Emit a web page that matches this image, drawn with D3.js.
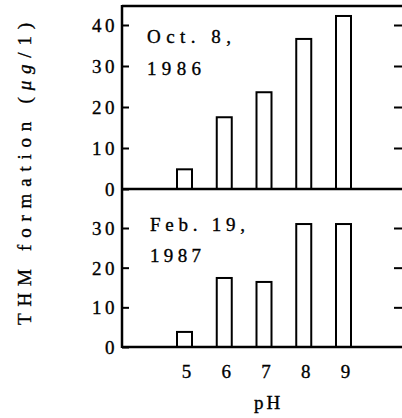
<!DOCTYPE html>
<html>
<head>
<meta charset="utf-8">
<script src="https://cdn.jsdelivr.net/npm/d3@7"></script>
<style>
  html, body { margin: 0; padding: 0; background: #fff; }
  svg { display: block; }
  svg text { font-family: "Liberation Serif", serif !important; fill: #000; stroke: #000; stroke-width: 0.35px; }
</style>
</head>
<body>
<svg id="chart" width="402" height="418"></svg>
<script>
// ---- data ----
const phValues = [5, 6, 7, 8, 9];
const oct1986 = [4.8, 17.5, 23.6, 36.6, 42.2];
const feb1987 = [3.8, 17.4, 16.4, 31.0, 31.0];
const topTicks = [0, 10, 20, 30, 40];
const bottomTicks = [0, 10, 20, 30];
const panelLabels = [["Oct. 8,", "1986"], ["Feb. 19,", "1987"]];
const yTitle = "THM formation (";
const xTitle = "pH";

// ---- layout ----
const FONT = "'Liberation Serif', serif";
const FS = 19;
const svg = d3.select("#chart");
const left = 122, right = 403, frameTop = 6;
const x = d3.scaleLinear().domain([5, 9]).range([184.5, 343.5]);
const yTop = d3.scaleLinear().domain([0, 40]).range([189, 25]);
const yBot = d3.scaleLinear().domain([0, 30]).range([347, 228]);
const barW = 15;

function drawPanel(y, values, ticks) {
  svg.append("g").selectAll("rect").data(values).join("rect")
    .attr("x", (d, i) => x(phValues[i]) - barW / 2)
    .attr("y", d => y(d))
    .attr("width", barW)
    .attr("height", d => y(0) - y(d))
    .attr("fill", "#fff").attr("stroke", "#000").attr("stroke-width", 2);
  const gl = svg.append("g").attr("transform", `translate(${left},0)`)
    .call(d3.axisLeft(y).tickValues(ticks).tickSize(-7).tickPadding(4).tickFormat(d3.format("d")));
  gl.attr("font-family", FONT).attr("font-size", FS);
  gl.select(".domain").remove();
  gl.selectAll(".tick line").attr("stroke", "#000").attr("stroke-width", 2);
  gl.selectAll(".tick text").attr("font-size", FS).attr("font-family", FONT)
    .attr("letter-spacing", 3.5).attr("dy", "0.34em");
  const gr = svg.append("g").attr("transform", `translate(${right},0)`)
    .call(d3.axisLeft(y).tickValues(ticks.filter(t => t > 0)).tickSize(9).tickFormat(""));
  gr.select(".domain").remove();
  gr.selectAll(".tick line").attr("stroke", "#000").attr("stroke-width", 2);
  svg.append("line").attr("x1", left).attr("x2", 402)
    .attr("y1", y(0)).attr("y2", y(0)).attr("stroke", "#000").attr("stroke-width", 2.5);
}

drawPanel(yTop, oct1986, topTicks);
drawPanel(yBot, feb1987, bottomTicks);

svg.append("line").attr("x1", left).attr("x2", 402).attr("y1", frameTop).attr("y2", frameTop)
  .attr("stroke", "#000").attr("stroke-width", 2.5);
svg.append("line").attr("x1", left).attr("x2", left).attr("y1", frameTop - 1).attr("y2", yBot(0) + 1)
  .attr("stroke", "#000").attr("stroke-width", 2.5);

const ann = [
  { lines: panelLabels[0], x: 147, y: [43, 75], w: [84, 54] },
  { lines: panelLabels[1], x: 150, y: [231, 262], w: [95, 51] }
];
ann.forEach(a => {
  a.lines.forEach((t, i) => {
    svg.append("text").attr("x", a.x).attr("y", a.y[i]).attr("font-size", FS)
      .attr("font-family", FONT)
      .attr("textLength", a.w[i]).attr("lengthAdjust", "spacing").text(t);
  });
});

svg.append("g").selectAll("text").data(phValues).join("text")
  .attr("x", d => x(d) + 2).attr("y", 378).attr("text-anchor", "middle")
  .attr("font-family", FONT).attr("font-size", FS).text(d => d);

svg.append("text").attr("x", 267).attr("y", 409).attr("text-anchor", "middle")
  .attr("font-family", FONT).attr("font-size", FS).attr("letter-spacing", 3).attr("dx", 1.5).text(xTitle);

const yt = svg.append("text")
  .attr("transform", "translate(31,174) rotate(-90)")
  .attr("text-anchor", "middle").attr("font-size", FS).attr("font-family", FONT)
  .attr("textLength", 302).attr("lengthAdjust", "spacing");
yt.append("tspan").text(yTitle);
yt.append("tspan").attr("font-style", "italic").text("\u03bcg");
yt.append("tspan").text("/1)");
</script>
</body>
</html>
